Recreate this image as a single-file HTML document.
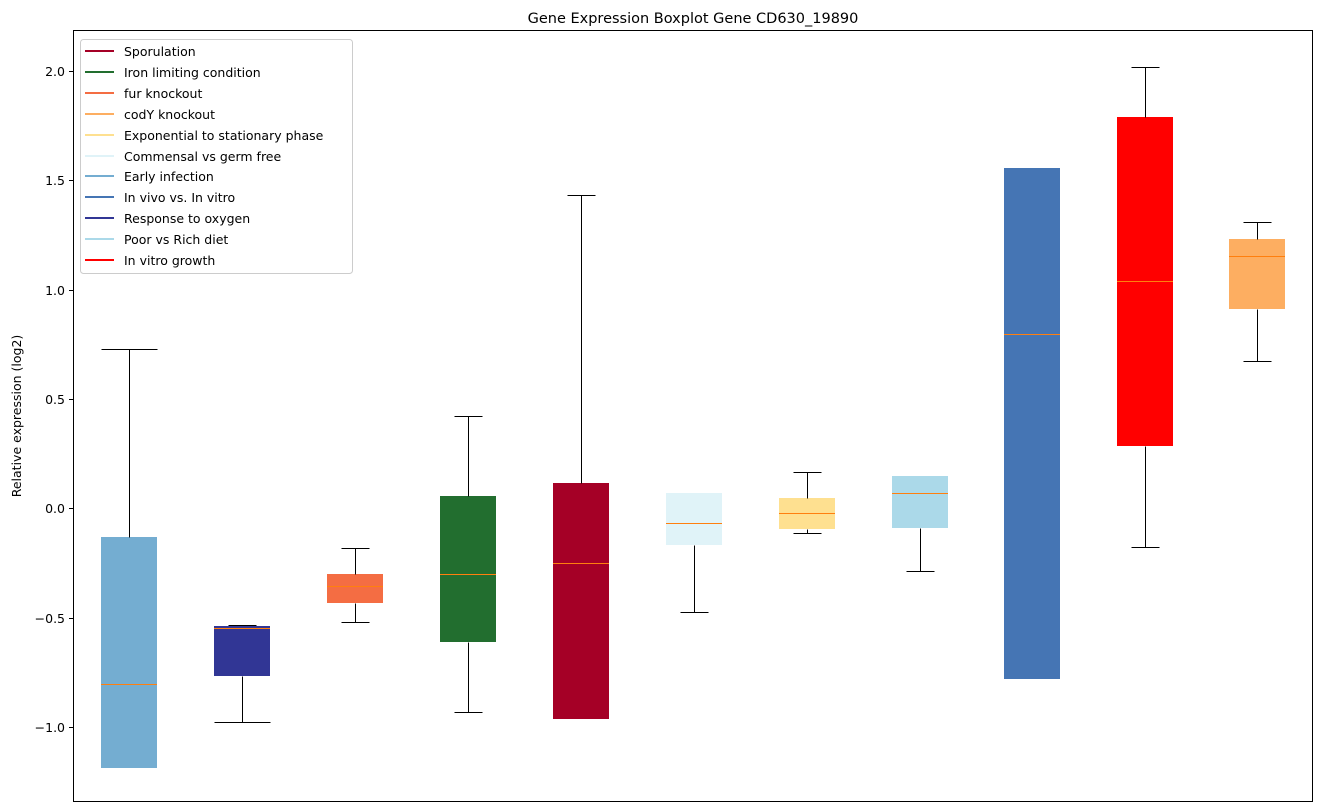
<!DOCTYPE html>
<html><head><style>body{margin:0;background:#fff}svg{display:block;font-family:"DejaVu Sans",sans-serif}</style></head><body>
<svg width="1322" height="812" xmlns="http://www.w3.org/2000/svg">
<rect width="1322" height="812" fill="#fff"/>
<text x="693" y="23" font-size="14.5" text-anchor="middle">Gene Expression Boxplot Gene CD630_19890</text>
<g>
<rect x="101" y="537" width="56" height="231" fill="#74add1"/>
<rect x="214" y="626" width="56" height="50" fill="#313695"/>
<rect x="327" y="574" width="56" height="29" fill="#f46d43"/>
<rect x="440" y="496" width="56" height="146" fill="#226e2f"/>
<rect x="553" y="483" width="56" height="236" fill="#a50026"/>
<rect x="666" y="493" width="56" height="52" fill="#e0f3f8"/>
<rect x="779" y="498" width="56" height="31" fill="#fee090"/>
<rect x="892" y="476" width="56" height="52" fill="#abd9e9"/>
<rect x="1004" y="168" width="56" height="511" fill="#4575b4"/>
<rect x="1117" y="117" width="56" height="329" fill="#ff0000"/>
<rect x="1229" y="239" width="56" height="70" fill="#fdae61"/>
</g>
<g stroke="#000" stroke-width="1" fill="none" transform="translate(0.5,0.5)">
<line x1="129" y1="349" x2="129" y2="537"/><line x1="101" y1="349" x2="157" y2="349"/>
<line x1="242" y1="676" x2="242" y2="722"/><line x1="214" y1="722" x2="270" y2="722"/><line x1="228" y1="625" x2="256" y2="625"/>
<line x1="355" y1="548" x2="355" y2="574"/><line x1="341" y1="548" x2="369" y2="548"/>
<line x1="355" y1="603" x2="355" y2="622"/><line x1="341" y1="622" x2="369" y2="622"/>
<line x1="468" y1="416" x2="468" y2="496"/><line x1="454" y1="416" x2="482" y2="416"/>
<line x1="468" y1="642" x2="468" y2="712"/><line x1="454" y1="712" x2="482" y2="712"/>
<line x1="581" y1="195" x2="581" y2="483"/><line x1="567" y1="195" x2="595" y2="195"/>
<line x1="694" y1="545" x2="694" y2="612"/><line x1="680" y1="612" x2="708" y2="612"/>
<line x1="807" y1="472" x2="807" y2="498"/><line x1="793" y1="472" x2="821" y2="472"/>
<line x1="807" y1="529" x2="807" y2="533"/><line x1="793" y1="533" x2="821" y2="533"/>
<line x1="920" y1="528" x2="920" y2="571"/><line x1="906" y1="571" x2="934" y2="571"/>
<line x1="1145" y1="67" x2="1145" y2="117"/><line x1="1131" y1="67" x2="1159" y2="67"/>
<line x1="1145" y1="446" x2="1145" y2="547"/><line x1="1131" y1="547" x2="1159" y2="547"/>
<line x1="1257" y1="222" x2="1257" y2="239"/><line x1="1243" y1="222" x2="1271" y2="222"/>
<line x1="1257" y1="309" x2="1257" y2="361"/><line x1="1243" y1="361" x2="1271" y2="361"/>
</g>
<g stroke="#ff7f0e" stroke-width="1" transform="translate(0,0.5)">
<line x1="101" y1="684" x2="157" y2="684"/><line x1="214" y1="628" x2="270" y2="628"/>
<line x1="327" y1="586" x2="383" y2="586"/><line x1="440" y1="574" x2="496" y2="574"/>
<line x1="553" y1="563" x2="609" y2="563"/><line x1="666" y1="523" x2="722" y2="523"/>
<line x1="779" y1="513" x2="835" y2="513"/><line x1="892" y1="493" x2="948" y2="493"/>
<line x1="1004" y1="334" x2="1060" y2="334"/><line x1="1117" y1="281" x2="1173" y2="281"/>
<line x1="1229" y1="256" x2="1285" y2="256"/>
</g>
<rect x="73.5" y="30.5" width="1239" height="771" fill="none" stroke="#000"/>
<g font-size="12.5" text-anchor="end" fill="#000">
<line x1="69" y1="71.5" x2="73" y2="71.5" stroke="#000"/><text x="65" y="76">2.0</text>
<line x1="69" y1="180.5" x2="73" y2="180.5" stroke="#000"/><text x="65" y="185">1.5</text>
<line x1="69" y1="290.5" x2="73" y2="290.5" stroke="#000"/><text x="65" y="295">1.0</text>
<line x1="69" y1="399.5" x2="73" y2="399.5" stroke="#000"/><text x="65" y="404">0.5</text>
<line x1="69" y1="508.5" x2="73" y2="508.5" stroke="#000"/><text x="65" y="513">0.0</text>
<line x1="69" y1="618.5" x2="73" y2="618.5" stroke="#000"/><text x="65" y="623">−0.5</text>
<line x1="69" y1="727.5" x2="73" y2="727.5" stroke="#000"/><text x="65" y="732">−1.0</text>
</g>
<text transform="translate(21,416) rotate(-90)" font-size="12.5" text-anchor="middle">Relative expression (log2)</text>
<rect x="80.5" y="39.5" width="272" height="234" rx="3" fill="#fff" stroke="#ccc"/>
<g font-size="12.5" stroke-width="2">
<line x1="85" y1="51" x2="114" y2="51" stroke="#a50026"/><text x="124" y="56">Sporulation</text>
<line x1="85" y1="72" x2="114" y2="72" stroke="#226e2f"/><text x="124" y="77">Iron limiting condition</text>
<line x1="85" y1="93" x2="114" y2="93" stroke="#f46d43"/><text x="124" y="98">fur knockout</text>
<line x1="85" y1="114" x2="114" y2="114" stroke="#fdae61"/><text x="124" y="119">codY knockout</text>
<line x1="85" y1="135" x2="114" y2="135" stroke="#fee090"/><text x="124" y="140">Exponential to stationary phase</text>
<line x1="85" y1="156" x2="114" y2="156" stroke="#e0f3f8"/><text x="124" y="161">Commensal vs germ free</text>
<line x1="85" y1="176" x2="114" y2="176" stroke="#74add1"/><text x="124" y="181">Early infection</text>
<line x1="85" y1="197" x2="114" y2="197" stroke="#4575b4"/><text x="124" y="202">In vivo vs. In vitro</text>
<line x1="85" y1="218" x2="114" y2="218" stroke="#313695"/><text x="124" y="223">Response to oxygen</text>
<line x1="85" y1="239" x2="114" y2="239" stroke="#abd9e9"/><text x="124" y="244">Poor vs Rich diet</text>
<line x1="85" y1="260" x2="114" y2="260" stroke="#ff0000"/><text x="124" y="265">In vitro growth</text>
</g>
</svg>
</body></html>
